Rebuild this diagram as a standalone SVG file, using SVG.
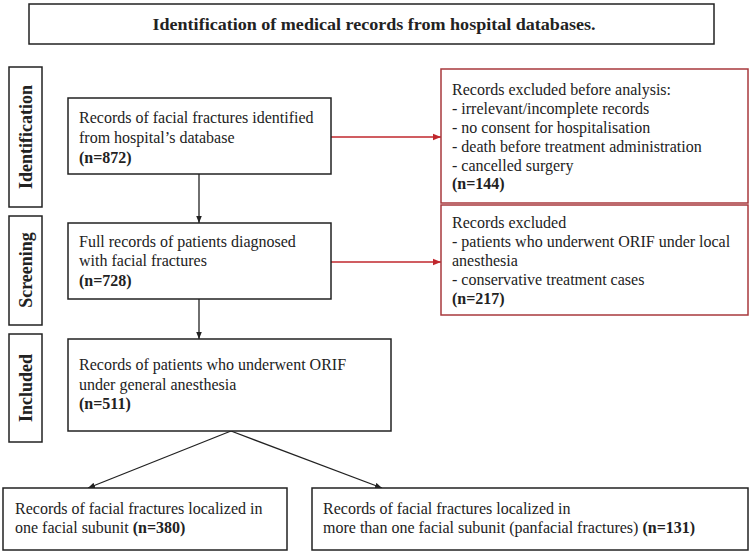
<svg xmlns="http://www.w3.org/2000/svg" width="753" height="555" viewBox="0 0 753 555">
<defs>
<style>
.box{fill:#fff;stroke:#222;stroke-width:1.5}
.rbox{fill:#fff;stroke:#a8393c;stroke-width:1.5}
.t{font-family:"Liberation Serif","Times New Roman",serif;font-size:16px;fill:#222}
.b{font-weight:bold}
.lab{font-family:"Liberation Serif","Times New Roman",serif;font-size:18px;font-weight:bold;fill:#222}
.ttl{font-family:"Liberation Serif","Times New Roman",serif;font-size:17px;font-weight:bold;fill:#222}
.ln{stroke:#222;stroke-width:1.3;fill:none}
.rln{stroke:#c0272d;stroke-width:1.3;fill:none}
</style>
<marker id="ah" viewBox="0 0 10 10" refX="10" refY="5" markerWidth="7" markerHeight="7" orient="auto" markerUnits="userSpaceOnUse"><path d="M0,1 L10,5 L0,9 z" fill="#222"/></marker>
<marker id="rah" viewBox="0 0 10 10" refX="10" refY="5" markerWidth="8" markerHeight="8" orient="auto" markerUnits="userSpaceOnUse"><path d="M0,1 L10,5 L0,9 z" fill="#c0272d"/></marker>
</defs>
<rect width="753" height="555" fill="#fff"/>

<g id="title">
<rect class="box" x="29" y="4" width="685" height="40"/>
<text class="ttl" x="374" y="30" text-anchor="middle" textLength="443" lengthAdjust="spacingAndGlyphs">Identification of medical records from hospital databases.</text>
</g>

<g id="label-identification">
<rect class="box" x="9" y="67" width="33" height="140"/>
<text class="lab" transform="translate(32,137) rotate(-90)" text-anchor="middle">Identification</text>
</g>
<g id="label-screening">
<rect class="box" x="9" y="216" width="33" height="109"/>
<text class="lab" transform="translate(32,270) rotate(-90)" text-anchor="middle">Screening</text>
</g>
<g id="label-included">
<rect class="box" x="9" y="334" width="33" height="108"/>
<text class="lab" transform="translate(32,388) rotate(-90)" text-anchor="middle">Included</text>
</g>

<g id="connectors">
<line class="ln" x1="199" y1="174" x2="199" y2="223" marker-end="url(#ah)"/>
<line class="ln" x1="199" y1="299" x2="199" y2="339" marker-end="url(#ah)"/>
<line class="rln" x1="331" y1="137" x2="441" y2="137" marker-end="url(#rah)"/>
<line class="rln" x1="331" y1="262" x2="441" y2="262" marker-end="url(#rah)"/>
<line class="ln" x1="231" y1="431" x2="88" y2="488" marker-end="url(#ah)"/>
<line class="ln" x1="231" y1="431" x2="382" y2="488" marker-end="url(#ah)"/>
</g>

<g id="node-identified">
<rect class="box" x="68" y="98" width="263" height="76"/>
<text class="t" x="79" y="123">Records of facial fractures identified</text>
<text class="t" x="79" y="143">from hospital’s database</text>
<text class="t b" x="79" y="163">(n=872)</text>
</g>

<g id="node-excluded-before">
<rect class="rbox" x="441" y="69" width="307" height="134"/>
<text class="t" x="452" y="95">Records excluded before analysis:</text>
<text class="t" x="452" y="114">- irrelevant/incomplete records</text>
<text class="t" x="452" y="133">- no consent for hospitalisation</text>
<text class="t" x="452" y="152">- death before treatment administration</text>
<text class="t" x="452" y="171">- cancelled surgery</text>
<text class="t b" x="452" y="189">(n=144)</text>
</g>

<g id="node-full-records">
<rect class="box" x="68" y="223" width="263" height="76"/>
<text class="t" x="79" y="247">Full records of patients diagnosed</text>
<text class="t" x="79" y="266">with facial fractures</text>
<text class="t b" x="79" y="286">(n=728)</text>
</g>

<g id="node-excluded">
<rect class="rbox" x="441" y="205" width="307" height="110"/>
<text class="t" x="452" y="228">Records excluded</text>
<text class="t" x="452" y="247">- patients who underwent ORIF under local</text>
<text class="t" x="452" y="266">anesthesia</text>
<text class="t" x="452" y="285">- conservative treatment cases</text>
<text class="t b" x="452" y="304">(n=217)</text>
</g>

<g id="node-included">
<rect class="box" x="68" y="339" width="323" height="92"/>
<text class="t" x="79" y="370">Records of patients who underwent ORIF</text>
<text class="t" x="79" y="390">under general anesthesia</text>
<text class="t b" x="79" y="409">(n=511)</text>
</g>

<g id="node-one-subunit">
<rect class="box" x="3" y="488" width="284" height="62"/>
<text class="t" x="15" y="514">Records of facial fractures localized in</text>
<text class="t" x="15" y="533">one facial subunit <tspan class="b">(n=380)</tspan></text>
</g>

<g id="node-panfacial">
<rect class="box" x="312" y="488" width="436" height="62"/>
<text class="t" x="323" y="514">Records of facial fractures localized in</text>
<text class="t" x="323" y="533">more than one facial subunit (panfacial fractures) <tspan class="b">(n=131)</tspan></text>
</g>
</svg>
